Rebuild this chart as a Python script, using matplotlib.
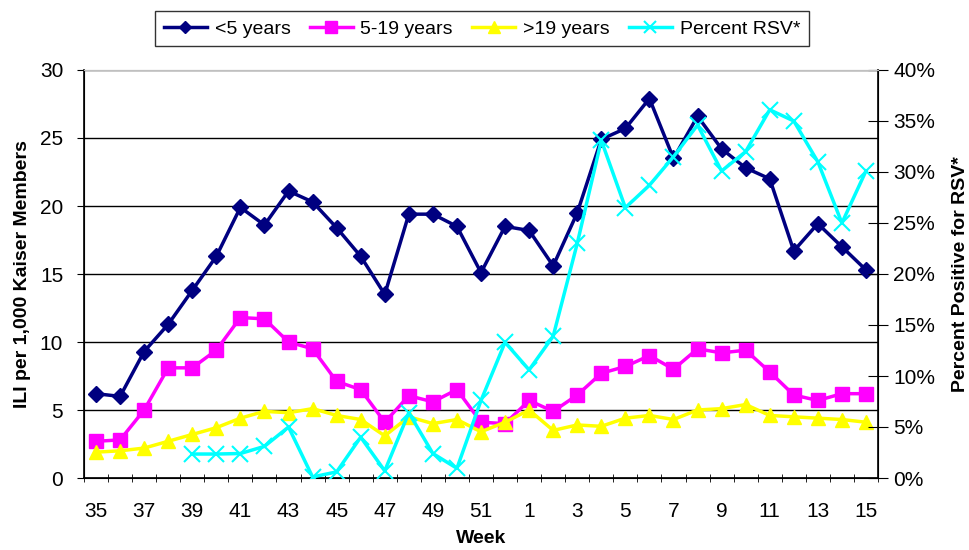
import matplotlib
matplotlib.use("Agg")
from matplotlib import pyplot as plt
from matplotlib.ticker import FixedLocator, PercentFormatter

plt.rcParams['font.family'] = ['Liberation Sans', 'DejaVu Sans']

weeks = [35, 36, 37, 38, 39, 40, 41, 42, 43, 44, 45, 46, 47, 48, 49, 50, 51, 52,
         1, 2, 3, 4, 5, 6, 7, 8, 9, 10, 11, 12, 13, 14, 15]

under5 = [6.2, 6.0, 9.3, 11.3, 13.8, 16.3, 19.9, 18.6, 21.1, 20.3, 18.4, 16.3, 13.5,
          19.4, 19.4, 18.5, 15.1, 18.5, 18.2, 15.6, 19.5, 24.9, 25.7, 27.9, 23.5,
          26.6, 24.2, 22.8, 22.0, 16.7, 18.7, 17.0, 15.3]

age5_19 = [2.7, 2.8, 5.0, 8.1, 8.1, 9.4, 11.8, 11.7, 10.0, 9.5, 7.1, 6.5, 4.1,
           6.05, 5.6, 6.5, 4.1, 4.0, 5.7, 4.9, 6.1, 7.7, 8.2, 9.0, 8.0,
           9.5, 9.2, 9.4, 7.8, 6.1, 5.7, 6.2, 6.2]

over19 = [1.9, 2.0, 2.2, 2.7, 3.2, 3.7, 4.4, 4.9, 4.8, 5.1, 4.6, 4.3, 3.1,
          4.5, 4.0, 4.3, 3.4, 4.1, 5.0, 3.5, 3.9, 3.8, 4.4, 4.6, 4.3,
          5.0, 5.1, 5.4, 4.6, 4.5, 4.4, 4.3, 4.1]

# RSV data starts at week 39
rsv_pct = [None, None, None, None, 2.35, 2.35, 2.4, 3.1, 5.0, 0.1, 0.6, 4.0, 0.7,
           6.4, 2.4, 0.95, 7.6, 13.3, 10.6, 13.9, 23.0, 33.1, 26.5, 28.7, 31.5,
           34.6, 30.1, 32.0, 36.1, 35.0, 31.0, 25.0, 30.1]

x = list(range(len(weeks)))
rsv_x = [i for i, v in zip(x, rsv_pct) if v is not None]
rsv_y = [v for v in rsv_pct if v is not None]

fig = plt.figure(figsize=(9.7, 5.5), dpi=100)
ax = fig.add_axes([84 / 970, 72 / 550, 794 / 970, 408 / 550])
ax2 = ax.twinx()

l1, = ax.plot(x, under5, color="#000080", lw=2.5, marker="D", ms=8, label="<5 years", zorder=3)
l2, = ax.plot(x, age5_19, color="#FF00FF", lw=2.5, marker="s", ms=10, label="5-19 years", zorder=3)
l3, = ax.plot(x, over19, color="#FFFF00", lw=2.5, marker="^", ms=10, label=">19 years", zorder=3)
l4, = ax2.plot(rsv_x, rsv_y, color="#00FFFF", lw=2.5, marker="x", ms=11, mew=1.5,
               label="Percent RSV*", zorder=3)

ax.set_xlim(-0.5, len(weeks) - 0.5)
ax.set_ylim(0, 30)
ax.set_yticks(range(0, 31, 5))
ax.yaxis.grid(True, color="black", lw=1)
ax.set_axisbelow(True)

ax2.set_ylim(0, 40)
ax2.set_yticks(range(0, 41, 5))
ax2.yaxis.set_major_formatter(PercentFormatter(decimals=0))

ax.set_xticks(x[::2])
ax.set_xticklabels([str(w) for w in weeks[::2]])
ax.xaxis.set_minor_locator(FixedLocator([i - 0.5 for i in range(len(weeks) + 1)]))
ax.tick_params(axis="x", which="major", length=0, pad=17, labelsize=15)
ax.tick_params(axis="x", which="minor", length=6, direction="inout")
ax.tick_params(axis="y", length=5, labelsize=15, direction="out", pad=10)
ax2.tick_params(axis="y", length=14, labelsize=15, direction="inout", pad=4)

for sp in ["top"]:
    ax.spines[sp].set_color("#c0c0c0")
    ax2.spines[sp].set_color("#c0c0c0")
ax.spines["left"].set_linewidth(1.2)
ax2.spines["right"].set_linewidth(1.2)
ax.spines["bottom"].set_linewidth(1.2)

ax.set_xlabel("Week", fontsize=14, fontweight="bold", labelpad=7)
ax.set_ylabel("ILI per 1,000 Kaiser Members", fontsize=14, fontweight="bold", labelpad=6)
ax2.set_ylabel("Percent Positive for RSV*", fontsize=14, fontweight="bold", labelpad=12)

leg = fig.legend(handles=[l1, l2, l3, l4], loc="upper center", bbox_to_anchor=(0.497, 0.997),
                 ncol=4, fontsize=14, frameon=True, fancybox=False, edgecolor="black",
                 handlelength=2.2, handletextpad=0.4, columnspacing=1.0,
                 borderpad=0.45, markerscale=0.8)
leg.get_frame().set_linewidth(1.0)

fig.savefig("out.png", dpi=100)
